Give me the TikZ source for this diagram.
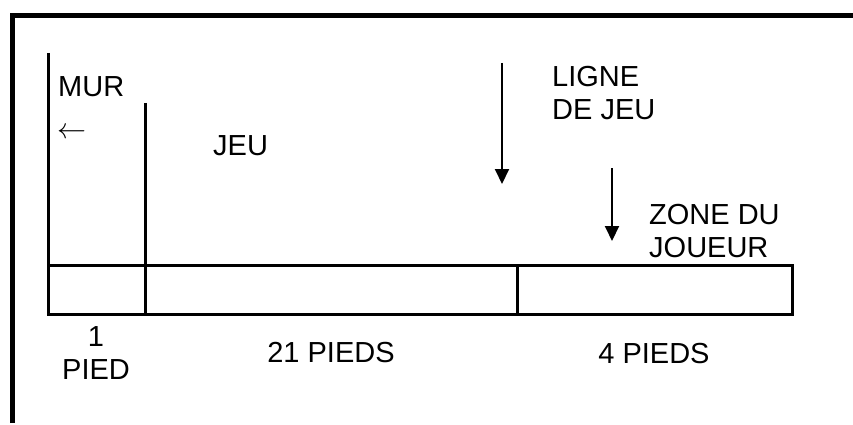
\RequirePackage{fix-cm}
\documentclass[tikz,border=0pt]{standalone}
\usepackage{fontspec}
\setmainfont{Liberation Sans}
\usetikzlibrary{arrows.meta}
\begin{document}
\begin{tikzpicture}[x=1pt,y=-1pt,
  lbl/.style={inner sep=0pt,font=\fontsize{29}{33}\selectfont},
  frame/.style={line width=5pt},
  court/.style={line width=3pt},
  pointer/.style={line width=2pt,-{Triangle[width=14pt,length=15pt]}}]
\useasboundingbox (0,0) rectangle (853,425);
% outer frame
\draw[frame] (12.5,423) -- (12.5,15.5) -- (853,15.5);
% court
\draw[court] (48,265) rectangle (792,314);
\draw[court] (48,53) -- (48,265);
\draw[court] (145,103) -- (145,314);
\draw[court] (517,265) -- (517,314);
% pointers
\coordinate (a1s) at (502,63);
\coordinate (a1e) at (502,184);
\coordinate (a2s) at (612,168);
\coordinate (a2e) at (612,241);
\draw[pointer] (a1s) -- (a1e);
\draw[pointer] (a2s) -- (a2e);
% labels
\node[lbl,anchor=base west] (mur) at (58,97) {MUR};
\node[lbl,anchor=base west] (larr) at (57,139) {$\leftarrow$};
\node[lbl,anchor=base west] (jeu) at (213,155) {JEU};
\node[lbl,anchor=north west,align=left] (ligne) at (552,66) {LIGNE\\DE JEU};
\node[lbl,anchor=north west,align=left] (zone) at (649,204) {ZONE DU\\JOUEUR};
\node[lbl,anchor=north,align=center] (pied) at (96,326.5) {1\\PIED};
\node[lbl,anchor=base] (p21) at (331,362) {21 PIEDS};
\node[lbl,anchor=base] (p4) at (654,363) {4 PIEDS};
\end{tikzpicture}
\end{document}
